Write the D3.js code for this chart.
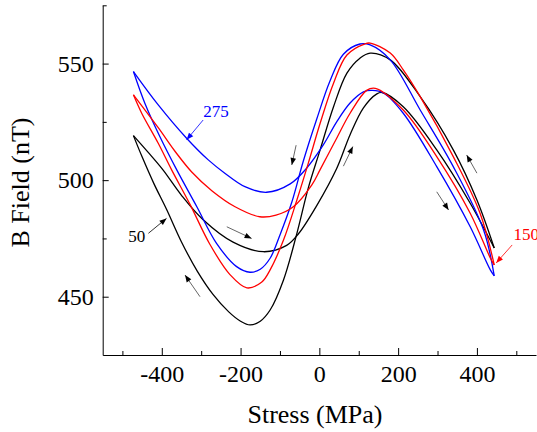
<!DOCTYPE html>
<html>
<head>
<meta charset="utf-8">
<script src="https://cdn.jsdelivr.net/npm/d3@7"></script>
<style>
body { margin: 0; background: #fff; }
text { font-family: "Liberation Serif", "Times New Roman", serif; }
</style>
</head>
<body>
<div id="chart"></div>
<script>
// hysteresis loops of B field vs stress, three loops (50, 150, 275)
// each loop = an upper (shallow) branch and a lower (deep) branch, both from -472 to +444 MPa

const stressShallow50 = [-472, -435, -397, -350, -295, -219, -142, -83, -53, -7, 44, 78, 112, 146, 159, 213, 298, 383, 444];
const fieldShallow50  = [519.1, 512.0, 504.4, 493.5, 483.0, 473.4, 469.3, 472.0, 477.0, 489.0, 505.0, 519.5, 531.0, 537.0, 537.6, 531.5, 513.0, 490.1, 470.9];
const stressDeep50 = [-472, -450, -420, -388, -350, -310, -270, -230, -200, -176, -150, -125, -91, -57, -28, 2, 36, 70, 103, 129, 180, 256, 340, 400, 444];
const fieldDeep50  = [519.1, 510.0, 498.5, 487.5, 473.5, 461.0, 451.0, 443.5, 439.5, 437.9, 439.5, 444.3, 457.2, 477.2, 496.7, 513.0, 531.5, 545.9, 552.3, 554.5, 551.6, 535.8, 513.0, 491.5, 470.9];

const stressShallow150 = [-472, -409, -367, -324, -273, -214, -151, -110, -66, -19, 2, 44, 78, 120, 142, 213, 298, 383, 434, 444];
const fieldShallow150  = [536.6, 522.5, 512.5, 503.5, 495.5, 488.6, 484.3, 485.0, 488.6, 498.0, 504.5, 518.0, 528.7, 538.5, 539.4, 530.1, 510.1, 485.8, 466.6, 463.6];
const stressDeep150 = [-472, -451, -409, -375, -328, -278, -227, -184, -146, -125, -91, -57, -28, 2, 36, 70, 116, 129, 180, 213, 256, 340, 408, 444];
const fieldDeep150  = [536.6, 528.7, 515.8, 504.4, 489.5, 472.5, 459.5, 453.8, 456.3, 461.5, 474.3, 491.5, 507.3, 524.4, 541.6, 553.7, 558.5, 558.8, 554.5, 547.3, 535.8, 510.1, 485.8, 463.6];

const stressShallow275 = [-472, -409, -337, -282, -240, -189, -134, -74, -32, 10, 44, 78, 112, 134, 163, 213, 298, 383, 434, 444];
const fieldShallow275  = [546.6, 532.3, 518.0, 508.7, 503.0, 497.2, 494.8, 498.4, 505.2, 515.1, 525.0, 533.1, 537.9, 538.5, 537.4, 528.7, 505.8, 480.0, 461.5, 458.9];
const stressDeep275 = [-472, -443, -405, -362, -311, -261, -210, -176, -150, -125, -100, -70, -41, -7, 27, 61, 103, 129, 180, 256, 340, 417, 444];
const fieldDeep275  = [546.6, 533.0, 518.7, 504.4, 488.6, 472.9, 462.9, 460.5, 461.8, 466.5, 476.5, 490.5, 508.0, 526.0, 542.5, 554.0, 558.4, 558.0, 551.6, 530.1, 505.8, 478.6, 458.9];

const xTicks = [-400, -200, 0, 200, 400];
const xMinorTicks = [-500, -300, -100, 100, 300, 500];
const yTicks = [450, 500, 550];
const yMinorTicks = [475, 525, 575];

// loop labels: text, anchor point, arrow from -> to (data units)
const labelNames = ["275", "50", "150"];
const labelAt = [[-295, 527.3], [-485, 473.6], [493, 474.3]];
const labelArrows = [[-295, 525.8, -337, 517.3], [-434, 477.2, -388, 483.6], [489.5, 472.2, 449, 464.5]];

// direction arrows, from -> to (data units)
const dirArrows = [
    [-59, 515, -70, 506.5],
    [61, 506, 85, 514.4],
    [-235, 480, -172, 475],
    [-303, 450, -341, 459.3],
    [400, 503, 374, 510.8],
    [298, 495, 328, 487.2]
];

const width = 537, height = 432;
const colors = {"50": "#000000", "150": "#ff0000", "275": "#0000ff"};

const loops = [
    {name: "50", s: stressShallow50, f: fieldShallow50},
    {name: "50", s: stressDeep50, f: fieldDeep50},
    {name: "275", s: stressShallow275, f: fieldShallow275},
    {name: "275", s: stressDeep275, f: fieldDeep275},
    {name: "150", s: stressShallow150, f: fieldShallow150},
    {name: "150", s: stressDeep150, f: fieldDeep150}
];

let x = d3.scaleLinear().domain([-550, 550]).range([102.7, 536]);
let y = d3.scaleLinear().domain([425, 575]).range([355, 5.3]);

let svg = d3.select("#chart").append("svg")
    .attr("width", width)
    .attr("height", height);

let defs = svg.append("defs");
function addMarker(id, color) {
    defs.append("marker")
        .attr("id", id)
        .attr("viewBox", "0 -5 10 10")
        .attr("refX", 10)
        .attr("refY", 0)
        .attr("markerUnits", "userSpaceOnUse")
        .attr("markerWidth", 9)
        .attr("markerHeight", 7)
        .attr("orient", "auto")
        .append("path")
        .attr("d", "M0,-4L10,0L0,4Z")
        .attr("fill", color);
}
addMarker("head-black", "#000");
addMarker("head-red", "#ff0000");
addMarker("head-blue", "#0000ff");

// axes, ticks pointing inward
svg.append("g").attr("transform", `translate(0,${y.range()[0]})`)
    .call(d3.axisBottom(x).tickValues(xTicks).tickSize(-7).tickSizeOuter(0).tickPadding(10).tickFormat(d => String(d)));
svg.append("g").attr("transform", `translate(0,${y.range()[0]})`)
    .call(d3.axisBottom(x).tickValues(xMinorTicks).tickSize(-4).tickSizeOuter(0).tickFormat(""))
    .select(".domain").remove();

svg.append("g").attr("transform", `translate(${x.range()[0]},0)`)
    .call(d3.axisLeft(y).tickValues(yTicks).tickSize(-6).tickSizeOuter(0).tickPadding(9).tickFormat(d => String(d)));
svg.append("g").attr("transform", `translate(${x.range()[0]},0)`)
    .call(d3.axisLeft(y).tickValues(yMinorTicks).tickSize(-4).tickSizeOuter(0).tickFormat(""))
    .select(".domain").remove();

svg.selectAll(".tick text")
    .style("font-family", "'Liberation Serif', 'Times New Roman', serif")
    .style("font-size", "24px")
    .attr("fill", "#000");
svg.selectAll(".domain, .tick line").attr("stroke", "#000");

svg.append("text")
    .attr("x", 315).attr("y", 423)
    .attr("text-anchor", "middle")
    .style("font-size", "26px")
    .text("Stress (MPa)");

svg.append("text")
    .attr("transform", "translate(29,182.5) rotate(-90)")
    .attr("text-anchor", "middle")
    .style("font-size", "26px")
    .text("B Field (nT)");

// loops
let line = d3.line()
    .x(d => x(d[0]))
    .y(d => y(d[1]))
    .curve(d3.curveCatmullRom.alpha(0.5));

svg.selectAll("path.loop")
    .data(loops)
    .enter()
    .append("path")
    .attr("class", "loop")
    .attr("d", d => line(d.s.map((v, i) => [v, d.f[i]])))
    .attr("fill", "none")
    .attr("stroke", d => colors[d.name])
    .attr("stroke-width", 1.3);

// direction arrows
svg.selectAll("line.dir")
    .data(dirArrows)
    .enter()
    .append("line")
    .attr("class", "dir")
    .attr("x1", d => x(d[0])).attr("y1", d => y(d[1]))
    .attr("x2", d => x(d[2])).attr("y2", d => y(d[3]))
    .attr("stroke", "#666")
    .attr("stroke-width", 1)
    .attr("marker-end", "url(#head-black)");

// loop labels
const headId = {"50": "head-black", "150": "head-red", "275": "head-blue"};
labelNames.forEach((name, i) => {
    svg.append("line")
        .attr("x1", x(labelArrows[i][0])).attr("y1", y(labelArrows[i][1]))
        .attr("x2", x(labelArrows[i][2])).attr("y2", y(labelArrows[i][3]))
        .attr("stroke", colors[name])
        .attr("stroke-width", 0.8)
        .attr("marker-end", `url(#${headId[name]})`);
    svg.append("text")
        .attr("x", x(labelAt[i][0])).attr("y", y(labelAt[i][1]))
        .attr("fill", colors[name])
        .style("font-size", "17px")
        .text(name);
});
</script>
</body>
</html>
